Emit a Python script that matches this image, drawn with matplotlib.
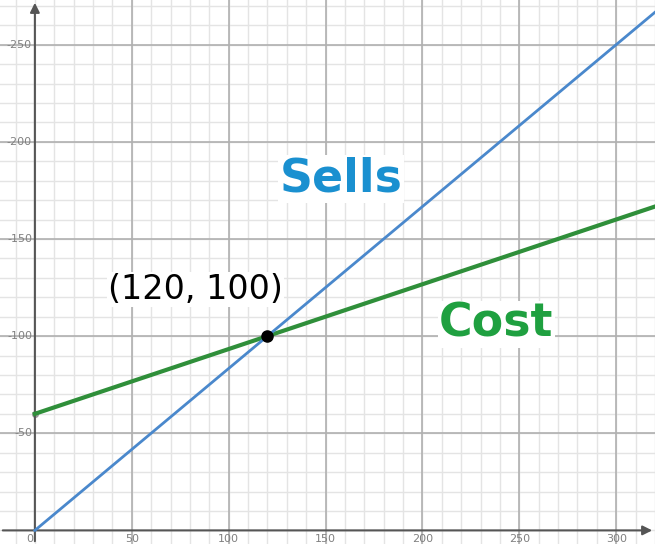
import numpy as np
import matplotlib
matplotlib.use("Agg")
import matplotlib.pyplot as plt

# line data (endpoints)
x_vals = [0, 320]
sells = [0, 266.7]
cost = [60, 166.7]
point = (120, 100)
major_ticks = [50, 100, 150, 200, 250, 300]
y_major = [50, 100, 150, 200, 250]

fig = plt.figure(figsize=(6.55, 5.44), dpi=100)
ax = fig.add_axes([0, 0, 1, 1])
ax.set_xlim(-18, 320)
ax.set_ylim(-7, 273)

# grid: minor every 10, major every 50
for v in np.arange(-10, 330, 10):
    ax.axvline(v, color='#e4e4e4', lw=1, zorder=0)
for v in np.arange(0, 280, 10):
    ax.axhline(v, color='#e4e4e4', lw=1, zorder=0)
for v in major_ticks:
    ax.axvline(v, color='#b0b0b0', lw=1.2, zorder=0.5)
for v in y_major:
    ax.axhline(v, color='#b0b0b0', lw=1.2, zorder=0.5)

# axes with arrows
ax.annotate('', xy=(320, 0), xytext=(-18, 0),
            arrowprops=dict(arrowstyle='-|>', color='#555555', lw=1.5, mutation_scale=14))
ax.annotate('', xy=(0, 273), xytext=(0, -7),
            arrowprops=dict(arrowstyle='-|>', color='#555555', lw=1.5, mutation_scale=14))

for s in ax.spines.values():
    s.set_visible(False)
ax.set_xticks([])
ax.set_yticks([])

# tick labels
for v in major_ticks:
    ax.text(v, -2, str(v), ha='center', va='top', fontsize=8, color='#808080')
for v in y_major:
    ax.text(-1.5, v, '-' + str(v), ha='right', va='center', fontsize=8, color='#808080')
ax.text(-1, -2, '0', ha='right', va='top', fontsize=8, color='#808080')

# lines
ax.plot(x_vals, cost, color='#2f8f3a', lw=3, zorder=3)
ax.plot(x_vals, sells, color='#4a88cc', lw=2, zorder=3)
ax.plot(*point, 'o', color='black', ms=8, zorder=4)
ax.plot(0, 60, 'o', color='#999999', ms=4, zorder=2.5)

# labels
ax.text(158, 181, 'Sells', fontsize=33, fontweight='bold', color='#1a90d0',
        ha='center', va='center', zorder=5,
        bbox=dict(fc='white', ec='none', pad=1))
ax.text(238, 106, 'Cost', fontsize=33, fontweight='bold', color='#1fa040',
        ha='center', va='center', zorder=5,
        bbox=dict(fc='white', ec='none', pad=1))
ax.text(83, 124, '(120, 100)', fontsize=24, color='black',
        ha='center', va='center', zorder=5,
        bbox=dict(fc='white', ec='none', pad=1))

fig.savefig('out.png', dpi=100)
